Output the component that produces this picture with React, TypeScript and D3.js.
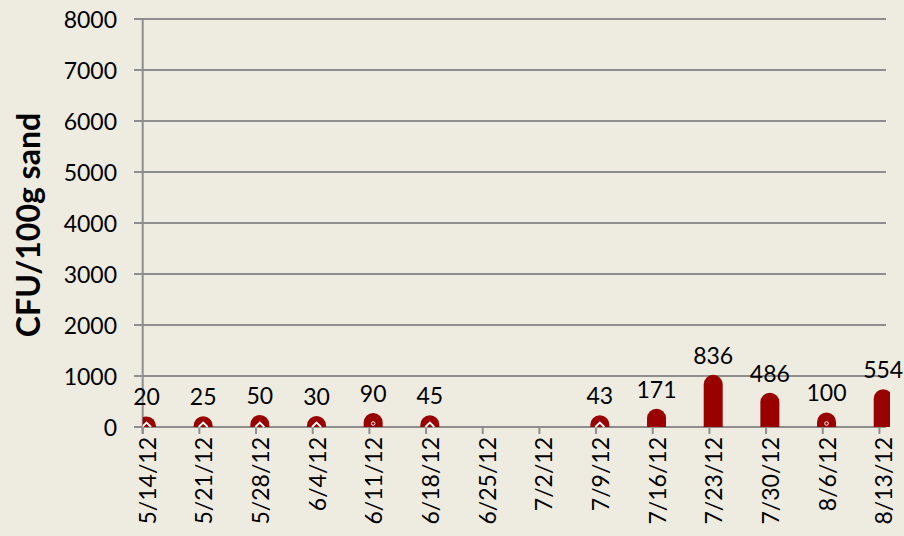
import React from "react";
import * as d3 from "d3";

const categories = ["5/14/12","5/21/12","5/28/12","6/4/12","6/11/12","6/18/12","6/25/12","7/2/12","7/9/12","7/16/12","7/23/12","7/30/12","8/6/12","8/13/12"];
const values: (number | null)[] = [20,25,50,30,90,45,null,null,43,171,836,486,100,554];
const yTicks = [0,1000,2000,3000,4000,5000,6000,7000,8000];
const yTitle = "CFU/100g sand";

const W = 904, H = 536;
const BG = "#EEECE1";
const BAR = "#990000";
const GRID = "#8E8E8E";
const FONT = "Lato, 'Open Sans', sans-serif";

export default function App() {
  const x0 = 142.7, step = 56.67, xRight = 886, clipRight = 890;
  const x = d3.scalePoint<string>().domain(categories).range([x0, x0 + step * (categories.length - 1)]);
  const y = d3.scaleLinear().domain([0, 8000]).range([427, 19]);
  const barW = 19, r = barW / 2, off = 3.8;

  const barPath = (cx: number, v: number) => {
    const top = y(v);
    const b = y(0);
    const l = cx - r, rt = cx + r;
    return `M${l},${b} L${l},${top} A${r},${r} 0 0 1 ${rt},${top} L${rt},${b} Z`;
  };

  return (
    <svg width={W} height={H} style={{ position: "absolute", left: 0, top: 0, display: "block" }}>
      <defs>
        <clipPath id="plot">
          <rect x={x0} y={0} width={clipRight - x0} height={y(0) + 1} />
        </clipPath>
      </defs>
      <rect x={0} y={0} width={W} height={H} fill={BG} />
      {yTicks.map((t) => (
        <g key={t}>
          <line x1={134} x2={xRight} y1={y(t)} y2={y(t)} stroke={GRID} strokeWidth={2} />
          <text x={117} y={y(t)} textAnchor="end" dominantBaseline="central" fontFamily={FONT} fontSize={23} fill="#000">{t}</text>
        </g>
      ))}
      <line x1={x0} x2={x0} y1={y(8000) - 1} y2={y(0) + 7} stroke={GRID} strokeWidth={2} />
      {categories.map((c) => (
        <line key={c} x1={x(c)!} x2={x(c)!} y1={y(0)} y2={y(0) + 7} stroke={GRID} strokeWidth={2} />
      ))}
      <g clipPath="url(#plot)">
        {categories.map((c, i) => {
          const v = values[i];
          if (v == null) return null;
          const cx = x(c)! + off;
          return (
            <g key={c}>
              <path d={barPath(cx, v)} fill={BAR} />
              {v <= 60 && (
                <polyline points={`${cx - 4.5},${y(0)} ${cx},${y(0) - 4.5} ${cx + 4.5},${y(0)}`} fill="none" stroke="#fff" strokeWidth={1.8} />
              )}
              {v > 60 && v <= 120 && (
                <circle cx={cx} cy={y(0) - 3.5} r={1.8} fill={BAR} stroke="#fff" strokeWidth={1} />
              )}
            </g>
          );
        })}
      </g>
      {categories.map((c, i) => {
        const v = values[i];
        if (v == null) return null;
        const cx = x(c)! + off;
        return (
          <text key={c} x={cx} y={y(v) - r - 11} textAnchor="middle" fontFamily={FONT} fontSize={23} fill="#000">{v}</text>
        );
      })}
      {categories.map((c) => (
        <text key={c} transform={`translate(${x(c)! + 4},${437}) rotate(-90)`} textAnchor="end" dominantBaseline="central" fontFamily={FONT} fontSize={23} fill="#000">{c}</text>
      ))}
      <text transform={`translate(27,225) rotate(-90)`} textAnchor="middle" dominantBaseline="central" fontFamily={FONT} fontWeight="bold" fontSize={32} fill="#000">{yTitle}</text>
    </svg>
  );
}
